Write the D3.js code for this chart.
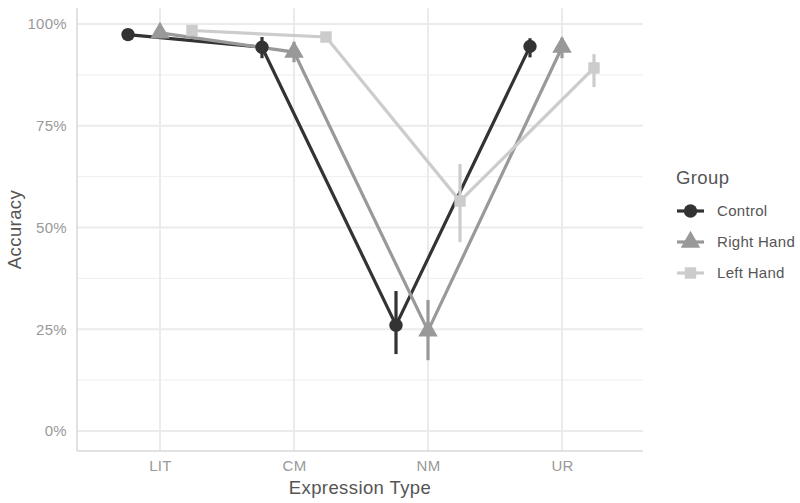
<!DOCTYPE html>
<html><head><meta charset="utf-8">
<script src="https://cdn.jsdelivr.net/npm/d3@7"></script>
<style>body{margin:0;background:#fff}svg{display:block;font-family:"Liberation Sans",Arial,sans-serif}</style>
</head><body><svg id="c" width="800" height="503"></svg>
<script>
const categories = ["LIT","CM","NM","UR"];
const groups = ["Control","Right Hand","Left Hand"];
const controlMean = [97.4, 94.3, 26.0, 94.5];
const controlLow  = [96.8, 91.6, 18.9, 91.8];
const controlHigh = [98.0, 96.8, 34.4, 96.5];
const rightMean = [97.8, 93.1, 24.6, 94.3];
const rightLow  = [97.0, 90.6, 17.4, 91.6];
const rightHigh = [98.6, 95.6, 32.2, 96.6];
const leftMean = [98.4, 96.8, 56.5, 89.2];
const leftLow  = [97.8, 96.0, 46.4, 84.5];
const leftHigh = [99.0, 97.6, 65.6, 92.6];
const yTicks = [0, 25, 50, 75, 100];
const yMinor = [12.5, 37.5, 62.5, 87.5];

const series = [
  {name: groups[0], mean: controlMean, lo: controlLow, hi: controlHigh, color: "#333333", shape: d3.symbolCircle, dodge: -1},
  {name: groups[1], mean: rightMean, lo: rightLow, hi: rightHigh, color: "#999999", shape: d3.symbolTriangle, dodge: 0},
  {name: groups[2], mean: leftMean, lo: leftLow, hi: leftHigh, color: "#cccccc", shape: d3.symbolSquare, dodge: 1}
];

const svg = d3.select("#c");
const L = 77, R = 643, T = 8, B = 451;
const x = d3.scalePoint().domain(categories).range([160, 562]);
const y = d3.scaleLinear().domain([0, 100]).range([431, 24]);
const dodgeW = 32;
const tickFont = "15px", titleFont = "18.5px";

// grid
const g = svg.append("g");
g.selectAll(".minor").data(yMinor).enter().append("line")
  .attr("x1", L).attr("x2", R).attr("y1", d => y(d)).attr("y2", d => y(d))
  .attr("stroke", "#f1f1f1").attr("stroke-width", 1.2);
g.selectAll(".major").data(yTicks).enter().append("line")
  .attr("x1", L).attr("x2", R).attr("y1", d => y(d)).attr("y2", d => y(d))
  .attr("stroke", "#ebebeb").attr("stroke-width", 2);
g.selectAll(".vx").data(categories).enter().append("line")
  .attr("x1", d => x(d)).attr("x2", d => x(d)).attr("y1", T).attr("y2", B)
  .attr("stroke", "#ebebeb").attr("stroke-width", 2);
// axis lines
svg.append("line").attr("x1", L).attr("x2", L).attr("y1", T).attr("y2", B).attr("stroke", "#d9d9d9").attr("stroke-width", 1.5);
svg.append("line").attr("x1", L).attr("x2", R).attr("y1", B).attr("y2", B).attr("stroke", "#d9d9d9").attr("stroke-width", 1.5);

// axis texts
const yAxis = d3.axisLeft(y).tickValues(yTicks).tickFormat(d => d + "%").tickSize(0).tickPadding(10);
const ya = svg.append("g").attr("transform", `translate(${L},0)`).call(yAxis);
ya.select(".domain").remove();
ya.selectAll("text").attr("fill", "#999").style("font-size", tickFont).style("letter-spacing", "0.3px").style("font-family", "Liberation Sans, Arial, sans-serif");
const xAxis = d3.axisBottom(x).tickSize(0).tickPadding(9);
const xa = svg.append("g").attr("transform", `translate(0,${B})`).call(xAxis);
xa.select(".domain").remove();
xa.selectAll("text").attr("fill", "#999").style("font-size", tickFont).style("letter-spacing", "0.3px").style("font-family", "Liberation Sans, Arial, sans-serif");

svg.append("text").attr("x", (L + R) / 2).attr("y", 494).attr("text-anchor", "middle")
  .attr("fill", "#555").style("font-size", titleFont).style("letter-spacing", "0.4px").text("Expression Type");
svg.append("text").attr("transform", `translate(21,${(T + B) / 2}) rotate(-90)`).attr("text-anchor", "middle")
  .attr("fill", "#555").style("font-size", titleFont).style("letter-spacing", "0.4px").text("Accuracy");

// data
const line = d3.line();
series.forEach(s => {
  const pts = categories.map((c, i) => [x(c) + s.dodge * dodgeW, y(s.mean[i])]);
  svg.append("path").attr("d", line(pts)).attr("fill", "none").attr("stroke", s.color).attr("stroke-width", 3.2);
});
series.forEach(s => {
  categories.forEach((c, i) => {
    const cx = x(c) + s.dodge * dodgeW;
    svg.append("line").attr("x1", cx).attr("x2", cx).attr("y1", y(s.lo[i])).attr("y2", y(s.hi[i]))
      .attr("stroke", s.color).attr("stroke-width", 3.2);
  });
});
series.forEach(s => {
  const sym = d3.symbol().type(s.shape).size(s.shape === d3.symbolTriangle ? 165 : (s.shape === d3.symbolSquare ? 130 : 140));
  categories.forEach((c, i) => {
    const cx = x(c) + s.dodge * dodgeW;
    svg.append("path").attr("d", sym()).attr("transform", `translate(${cx},${y(s.mean[i])})`).attr("fill", s.color);
  });
});

// legend
svg.append("text").attr("x", 676).attr("y", 184).attr("fill", "#555").style("font-size", titleFont).style("letter-spacing", "0.4px").text("Group");
series.forEach((s, i) => {
  const cy = 211 + i * 31;
  svg.append("line").attr("x1", 677).attr("x2", 704).attr("y1", cy).attr("y2", cy).attr("stroke", s.color).attr("stroke-width", 3.2);
  const sym = d3.symbol().type(s.shape).size(s.shape === d3.symbolSquare ? 130 : (s.shape === d3.symbolTriangle ? 165 : 140));
  svg.append("path").attr("d", sym()).attr("transform", `translate(690.5,${cy})`).attr("fill", s.color);
  svg.append("text").attr("x", 717).attr("y", cy + 5).attr("fill", "#555").style("font-size", tickFont).style("letter-spacing", "0.3px").text(s.name);
});
</script></body></html>
